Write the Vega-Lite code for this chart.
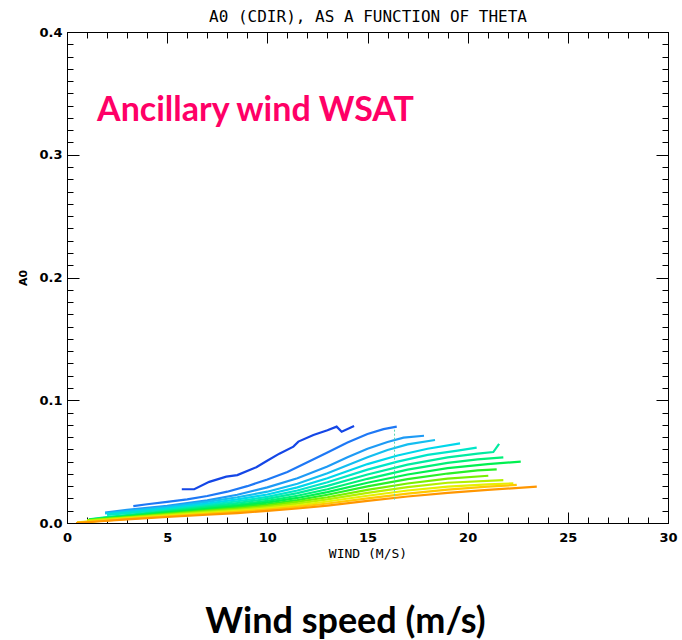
{
  "$schema": "https://vega.github.io/schema/vega-lite/v6.json",
  "width": 601,
  "height": 491,
  "autosize": {"type": "none"},
  "padding": {"left": 67, "top": 32, "right": 14, "bottom": 117},
  "background": "white",
  "title": {"text": "Wind speed (m/s)", "orient": "bottom", "anchor": "middle", "font": "Lato", "fontSize": 36, "fontWeight": "bold", "color": "black", "offset": 45, "dx": -22},
  "config": {
    "view": {"stroke": "black", "strokeWidth": 1},
    "axis": {"grid": false, "domain": false, "tickColor": "black", "tickWidth": 1, "labelColor": "black", "titleColor": "black"}
  },
  "datasets": {
    "curves": [
      {"c":1,"w":5.73,"a":0.0275},{"c":1,"w":6.35,"a":0.0275},{"c":1,"w":7.1,"a":0.0335},{"c":1,"w":7.95,"a":0.0378},{"c":1,"w":8.5,"a":0.039},{"c":1,"w":9.45,"a":0.0455},{"c":1,"w":9.97,"a":0.0505},{"c":1,"w":10.6,"a":0.0565},{"c":1,"w":11.3,"a":0.0622},{"c":1,"w":11.55,"a":0.0663},{"c":1,"w":12.3,"a":0.0717},{"c":1,"w":13.0,"a":0.0755},{"c":1,"w":13.46,"a":0.0785},{"c":1,"w":13.71,"a":0.0744},{"c":1,"w":14.33,"a":0.079},
      {"c":2,"w":3.31,"a":0.0138},{"c":2,"w":4.0,"a":0.0153},{"c":2,"w":5.0,"a":0.0172},{"c":2,"w":6.0,"a":0.0193},{"c":2,"w":7.0,"a":0.022},{"c":2,"w":8.0,"a":0.0255},{"c":2,"w":9.0,"a":0.03},{"c":2,"w":10.0,"a":0.0355},{"c":2,"w":11.0,"a":0.0415},{"c":2,"w":12.0,"a":0.0495},{"c":2,"w":13.0,"a":0.0575},{"c":2,"w":14.0,"a":0.0655},{"c":2,"w":15.0,"a":0.0725},{"c":2,"w":15.8,"a":0.0765},{"c":2,"w":16.46,"a":0.0785},
      {"c":3,"w":1.9,"a":0.0085},{"c":3,"w":3,"a":0.0108},{"c":3,"w":5,"a":0.014},{"c":3,"w":7,"a":0.0185},{"c":3,"w":8.5,"a":0.023},{"c":3,"w":10,"a":0.029},{"c":3,"w":11.5,"a":0.0365},{"c":3,"w":13,"a":0.046},{"c":3,"w":14,"a":0.0535},{"c":3,"w":15,"a":0.0605},{"c":3,"w":16,"a":0.066},{"c":3,"w":16.8,"a":0.0695},{"c":3,"w":17.82,"a":0.0711},
      {"c":4,"w":1.9,"a":0.0078},{"c":4,"w":3,"a":0.0098},{"c":4,"w":5,"a":0.013},{"c":4,"w":7,"a":0.0172},{"c":4,"w":8.5,"a":0.021},{"c":4,"w":10,"a":0.0255},{"c":4,"w":11.5,"a":0.032},{"c":4,"w":13,"a":0.0405},{"c":4,"w":14,"a":0.047},{"c":4,"w":15,"a":0.0535},{"c":4,"w":16,"a":0.0595},{"c":4,"w":17,"a":0.064},{"c":4,"w":18.37,"a":0.0676},
      {"c":5,"w":2.0,"a":0.0072},{"c":5,"w":3,"a":0.0088},{"c":5,"w":5,"a":0.012},{"c":5,"w":7,"a":0.0158},{"c":5,"w":8.5,"a":0.0192},{"c":5,"w":10,"a":0.0232},{"c":5,"w":11.5,"a":0.029},{"c":5,"w":13,"a":0.0365},{"c":5,"w":15,"a":0.048},{"c":5,"w":16.5,"a":0.055},{"c":5,"w":18,"a":0.0605},{"c":5,"w":19.62,"a":0.0649},
      {"c":6,"w":2.0,"a":0.0066},{"c":6,"w":3,"a":0.008},{"c":6,"w":5,"a":0.011},{"c":6,"w":7,"a":0.0146},{"c":6,"w":8.5,"a":0.0177},{"c":6,"w":10,"a":0.0213},{"c":6,"w":11.5,"a":0.0265},{"c":6,"w":13,"a":0.0332},{"c":6,"w":15,"a":0.0435},{"c":6,"w":16.5,"a":0.05},{"c":6,"w":18,"a":0.0555},{"c":6,"w":19.5,"a":0.059},{"c":6,"w":20.45,"a":0.0614},
      {"c":7,"w":1.1,"a":0.003},{"c":7,"w":2,"a":0.0048},{"c":7,"w":3,"a":0.0065},{"c":7,"w":5,"a":0.01},{"c":7,"w":7,"a":0.0135},{"c":7,"w":8.5,"a":0.0163},{"c":7,"w":10,"a":0.0196},{"c":7,"w":11.5,"a":0.0243},{"c":7,"w":13,"a":0.0302},{"c":7,"w":15,"a":0.0395},{"c":7,"w":17,"a":0.0475},{"c":7,"w":19,"a":0.0535},{"c":7,"w":20.5,"a":0.0565},{"c":7,"w":21.28,"a":0.0578},{"c":7,"w":21.57,"a":0.0644},
      {"c":8,"w":1.1,"a":0.0028},{"c":8,"w":2,"a":0.0044},{"c":8,"w":3,"a":0.006},{"c":8,"w":5,"a":0.0093},{"c":8,"w":7,"a":0.0125},{"c":8,"w":8.5,"a":0.015},{"c":8,"w":10,"a":0.018},{"c":8,"w":11.5,"a":0.0222},{"c":8,"w":13,"a":0.0275},{"c":8,"w":15,"a":0.036},{"c":8,"w":17,"a":0.0435},{"c":8,"w":19,"a":0.049},{"c":8,"w":20.5,"a":0.0518},{"c":8,"w":21.78,"a":0.0535},
      {"c":9,"w":1.1,"a":0.0026},{"c":9,"w":2,"a":0.004},{"c":9,"w":3,"a":0.0055},{"c":9,"w":5,"a":0.0086},{"c":9,"w":7,"a":0.0115},{"c":9,"w":8.5,"a":0.0138},{"c":9,"w":10,"a":0.0166},{"c":9,"w":11.5,"a":0.0204},{"c":9,"w":13,"a":0.0252},{"c":9,"w":15,"a":0.0328},{"c":9,"w":17,"a":0.0395},{"c":9,"w":19,"a":0.0447},{"c":9,"w":21,"a":0.048},{"c":9,"w":22.65,"a":0.05},
      {"c":10,"w":1.0,"a":0.0024},{"c":10,"w":2,"a":0.0037},{"c":10,"w":3,"a":0.0051},{"c":10,"w":5,"a":0.0079},{"c":10,"w":7,"a":0.0106},{"c":10,"w":8.5,"a":0.0127},{"c":10,"w":10,"a":0.0153},{"c":10,"w":11.5,"a":0.0187},{"c":10,"w":13,"a":0.023},{"c":10,"w":15,"a":0.0298},{"c":10,"w":17,"a":0.0357},{"c":10,"w":19,"a":0.0403},{"c":10,"w":20.5,"a":0.0428},{"c":10,"w":21.45,"a":0.0437},
      {"c":11,"w":1.0,"a":0.0022},{"c":11,"w":2,"a":0.0034},{"c":11,"w":3,"a":0.0047},{"c":11,"w":5,"a":0.0073},{"c":11,"w":7,"a":0.0098},{"c":11,"w":8.5,"a":0.0117},{"c":11,"w":10,"a":0.0141},{"c":11,"w":11.5,"a":0.0172},{"c":11,"w":13,"a":0.021},{"c":11,"w":15,"a":0.027},{"c":11,"w":17,"a":0.0322},{"c":11,"w":19,"a":0.0362},{"c":11,"w":21.03,"a":0.0385},
      {"c":12,"w":1.0,"a":0.002},{"c":12,"w":2,"a":0.0031},{"c":12,"w":3,"a":0.0043},{"c":12,"w":5,"a":0.0067},{"c":12,"w":7,"a":0.009},{"c":12,"w":8.5,"a":0.0108},{"c":12,"w":10,"a":0.013},{"c":12,"w":11.5,"a":0.0158},{"c":12,"w":13,"a":0.0192},{"c":12,"w":15,"a":0.0245},{"c":12,"w":17,"a":0.0292},{"c":12,"w":19,"a":0.0328},{"c":12,"w":21.78,"a":0.035},
      {"c":13,"w":0.5,"a":0.0005},{"c":13,"w":1.5,"a":0.0018},{"c":13,"w":3,"a":0.0038},{"c":13,"w":5,"a":0.0061},{"c":13,"w":7,"a":0.0082},{"c":13,"w":8.5,"a":0.0099},{"c":13,"w":10,"a":0.0119},{"c":13,"w":11.5,"a":0.0144},{"c":13,"w":13,"a":0.0175},{"c":13,"w":15,"a":0.0222},{"c":13,"w":17,"a":0.0265},{"c":13,"w":19,"a":0.0297},{"c":13,"w":21,"a":0.0315},{"c":13,"w":22.28,"a":0.0323},
      {"c":14,"w":0.5,"a":0.0003},{"c":14,"w":1.5,"a":0.0015},{"c":14,"w":3,"a":0.0034},{"c":14,"w":5,"a":0.0055},{"c":14,"w":7,"a":0.0075},{"c":14,"w":8.5,"a":0.009},{"c":14,"w":10,"a":0.0109},{"c":14,"w":11.5,"a":0.0131},{"c":14,"w":13,"a":0.0159},{"c":14,"w":15,"a":0.0201},{"c":14,"w":17,"a":0.024},{"c":14,"w":19,"a":0.0272},{"c":14,"w":21,"a":0.0296},{"c":14,"w":22.45,"a":0.031},
      {"c":15,"w":0.45,"a":0.0},{"c":15,"w":1.5,"a":0.0012},{"c":15,"w":3,"a":0.003},{"c":15,"w":5,"a":0.0049},{"c":15,"w":7,"a":0.0067},{"c":15,"w":8.5,"a":0.0081},{"c":15,"w":10,"a":0.0098},{"c":15,"w":11.5,"a":0.0118},{"c":15,"w":13,"a":0.0142},{"c":15,"w":15,"a":0.018},{"c":15,"w":17,"a":0.0216},{"c":15,"w":19,"a":0.0246},{"c":15,"w":21,"a":0.027},{"c":15,"w":23.45,"a":0.0296}
    ],
    "note": [{"w": 1.5, "a": 0.3275, "t": "Ancillary wind WSAT"}],
    "marker": [{"w": 16.35, "a": 0.019, "a2": 0.077}]
  },
  "layer": [
    {
      "data": {"name": "curves"},
      "mark": {"type": "line", "strokeWidth": 2.2, "clip": true},
      "encoding": {
        "x": {"field": "w", "type": "quantitative", "scale": {"domain": [0, 30], "nice": false, "zero": false},
              "axis": {"orient": "bottom", "values": [0, 5, 10, 15, 20, 25, 30], "ticks": false, "labelFont": "DejaVu Sans", "labelFontWeight": "bold", "labelFontSize": 13, "labelPadding": 8, "labelFlush": false, "labelOverlap": false,
                       "title": "WIND (M/S)", "titleFont": "DejaVu Sans Mono", "titleFontWeight": "normal", "titleFontSize": 13, "titlePadding": 3}},
        "y": {"field": "a", "type": "quantitative", "scale": {"domain": [0, 0.4], "nice": false, "zero": false},
              "axis": {"orient": "left", "values": [0, 0.1, 0.2, 0.3, 0.4], "format": ".1f", "ticks": false, "labelFont": "DejaVu Sans", "labelFontWeight": "bold", "labelFontSize": 13, "labelPadding": 5, "labelFlush": false, "labelOverlap": false,
                       "title": "A0", "titleFont": "DejaVu Sans", "titleFontWeight": "bold", "titleFontSize": 11, "titlePadding": 10}},
        "color": {"field": "c", "type": "nominal", "legend": null,
                  "scale": {"domain": [1,2,3,4,5,6,7,8,9,10,11,12,13,14,15],
                            "range": ["#1446E6","#1E78F5","#1E9BF5","#14BEF0","#00D7EB","#00E6C8","#00EBA0","#00F078","#00F050","#28F028","#78F000","#B4F000","#E6F000","#FFC800","#FF9600"]}}
      }
    },
    {
      "data": {"name": "note"},
      "mark": {"type": "point", "opacity": 0},
      "encoding": {
        "x": {"field": "w", "type": "quantitative", "axis": {"orient": "bottom", "values": [0, 5, 10, 15, 20, 25, 30], "labels": false, "tickSize": -11, "title": null}},
        "y": {"field": "a", "type": "quantitative", "axis": {"orient": "left", "values": [0, 0.1, 0.2, 0.3, 0.4], "labels": false, "tickSize": -12, "title": null}}
      }
    },
    {
      "data": {"name": "note"},
      "mark": {"type": "point", "opacity": 0},
      "encoding": {
        "x": {"field": "w", "type": "quantitative", "axis": {"orient": "bottom", "values": [0,1,2,3,4,5,6,7,8,9,10,11,12,13,14,15,16,17,18,19,20,21,22,23,24,25,26,27,28,29,30], "labels": false, "tickSize": -6, "title": null}},
        "y": {"field": "a", "type": "quantitative", "axis": {"orient": "left", "values": [0,0.01,0.02,0.03,0.04,0.05,0.06,0.07,0.08,0.09,0.1,0.11,0.12,0.13,0.14,0.15,0.16,0.17,0.18,0.19,0.2,0.21,0.22,0.23,0.24,0.25,0.26,0.27,0.28,0.29,0.3,0.31,0.32,0.33,0.34,0.35,0.36,0.37,0.38,0.39,0.4], "labels": false, "tickSize": -6, "title": null}}
      }
    },
    {
      "data": {"name": "note"},
      "mark": {"type": "point", "opacity": 0},
      "encoding": {
        "x": {"field": "w", "type": "quantitative", "axis": {"orient": "top", "values": [0, 5, 10, 15, 20, 25, 30], "labels": false, "tickSize": -11,
              "title": "A0 (CDIR), AS A FUNCTION OF THETA", "titleFont": "DejaVu Sans Mono", "titleFontWeight": "normal", "titleFontSize": 16, "titlePadding": 7}},
        "y": {"field": "a", "type": "quantitative", "axis": {"orient": "right", "values": [0, 0.1, 0.2, 0.3, 0.4], "labels": false, "tickSize": -12, "title": null}}
      }
    },
    {
      "data": {"name": "note"},
      "mark": {"type": "point", "opacity": 0},
      "encoding": {
        "x": {"field": "w", "type": "quantitative", "axis": {"orient": "top", "values": [0,1,2,3,4,5,6,7,8,9,10,11,12,13,14,15,16,17,18,19,20,21,22,23,24,25,26,27,28,29,30], "labels": false, "tickSize": -6, "title": null}},
        "y": {"field": "a", "type": "quantitative", "axis": {"orient": "right", "values": [0,0.01,0.02,0.03,0.04,0.05,0.06,0.07,0.08,0.09,0.1,0.11,0.12,0.13,0.14,0.15,0.16,0.17,0.18,0.19,0.2,0.21,0.22,0.23,0.24,0.25,0.26,0.27,0.28,0.29,0.3,0.31,0.32,0.33,0.34,0.35,0.36,0.37,0.38,0.39,0.4], "labels": false, "tickSize": -6, "title": null}}
      }
    },
    {
      "data": {"name": "marker"},
      "mark": {"type": "rule", "color": "#55D8B0", "strokeWidth": 1, "strokeDash": [2, 2]},
      "encoding": {
        "x": {"field": "w", "type": "quantitative", "axis": null},
        "y": {"field": "a", "type": "quantitative", "axis": null},
        "y2": {"field": "a2"}
      }
    },
    {
      "data": {"name": "note"},
      "mark": {"type": "text", "font": "Lato", "fontSize": 34, "fontWeight": "bold", "color": "#FF0066", "align": "left", "baseline": "alphabetic"},
      "encoding": {
        "x": {"field": "w", "type": "quantitative", "axis": null},
        "y": {"field": "a", "type": "quantitative", "axis": null},
        "text": {"field": "t"}
      }
    }
  ],
  "resolve": {"axis": {"x": "independent", "y": "independent"}}
}
